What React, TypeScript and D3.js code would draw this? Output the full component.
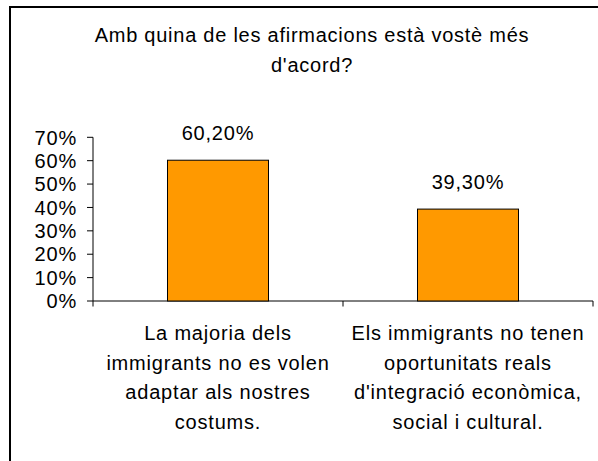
import React from "react";
import * as d3 from "d3";

const titleLines = ["Amb quina de les afirmacions està vostè més", "d'acord?"];
const categories = ["cat1", "cat2"];
const categoryLabels = [
  ["La majoria dels", "immigrants no es volen", "adaptar als nostres", "costums."],
  ["Els immigrants no tenen", "oportunitats reals", "d'integració econòmica,", "social i cultural."],
];
const values = [60.2, 39.3];
const valueLabels = ["60,20%", "39,30%"];
const yTicks = [0, 10, 20, 30, 40, 50, 60, 70];

export default function App() {
  const W = 598, H = 461;
  const left = 93, right = 593, top = 137.3, bottom = 301;
  const x = d3.scaleBand<string>().domain(categories).range([left, right]).paddingInner(0).paddingOuter(0);
  const y = d3.scaleLinear().domain([0, 70]).range([bottom, top]);
  const bw = 101;
  const font = "'Liberation Sans', Arial, sans-serif";
  const fs = 20;
  const ls = 0.8;
  return (
    <svg width={W} height={H} style={{ position: "absolute", left: 0, top: 0 }} fontFamily={font}>
      <rect x={0} y={0} width={W} height={H} fill="#fff" />
      <rect x={10} y={7} width={W + 10} height={H + 10} fill="none" stroke="#000" strokeWidth={2} />
      {titleLines.map((t, i) => (
        <text key={i} x={312} y={42.3 + i * 30} textAnchor="middle" fontSize={fs} letterSpacing={0.75} fill="#000">
          {t}
        </text>
      ))}
      {/* y axis */}
      <line x1={left} x2={left} y1={top} y2={bottom + 5.5} stroke="#000" strokeWidth={1} />
      {yTicks.map((t) => (
        <g key={t}>
          <line x1={left - 6} x2={left} y1={y(t)} y2={y(t)} stroke="#000" />
          <text x={77} y={y(t)} dy="0.36em" textAnchor="end" fontSize={fs} letterSpacing={ls} fill="#000">
            {t}%
          </text>
        </g>
      ))}
      {/* x axis */}
      <line x1={left} x2={right} y1={bottom} y2={bottom} stroke="#000" />
      {categories.map((c) => (
        <line key={c} x1={(x(c) as number) + x.bandwidth()} x2={(x(c) as number) + x.bandwidth()} y1={bottom} y2={bottom + 5.5} stroke="#000" />
      ))}
      {categories.map((c, i) => {
        const cx = (x(c) as number) + x.bandwidth() / 2;
        return (
          <g key={c}>
            <rect x={cx - bw / 2} y={y(values[i])} width={bw} height={bottom - y(values[i])} fill="#FF9900" stroke="#000" strokeWidth={1} />
            <text x={cx} y={y(values[i]) - 20.5} textAnchor="middle" fontSize={fs} letterSpacing={ls} fill="#000">
              {valueLabels[i]}
            </text>
            {categoryLabels[i].map((l, j) => (
              <text key={j} x={cx} y={340 + j * 29.5} textAnchor="middle" fontSize={fs} letterSpacing={ls} fill="#000">
                {l}
              </text>
            ))}
          </g>
        );
      })}
    </svg>
  );
}
